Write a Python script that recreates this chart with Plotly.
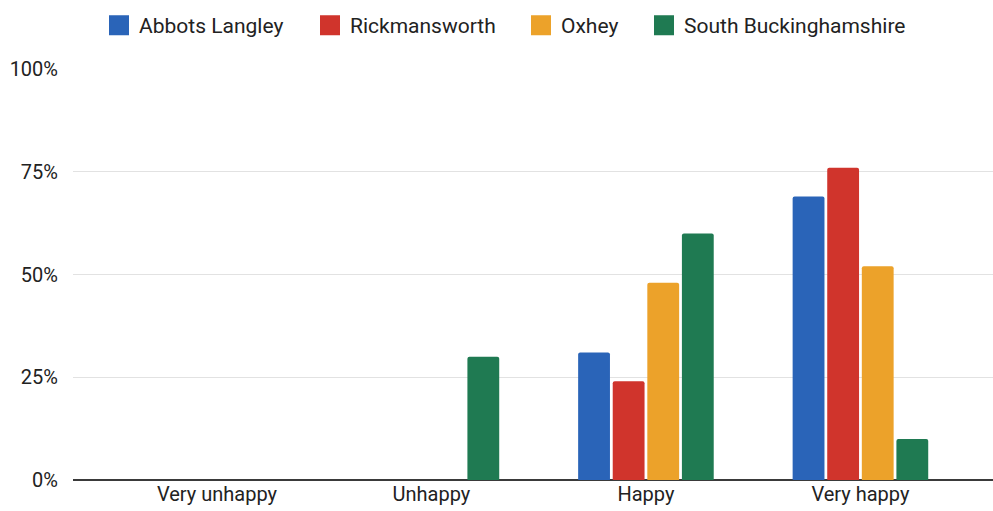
import plotly.graph_objects as go

categories = ["Very unhappy", "Unhappy", "Happy", "Very happy"]
series_names = ["Abbots Langley", "Rickmansworth", "Oxhey", "South Buckinghamshire"]
abbots_langley = [0, 0, 31, 69]
rickmansworth = [0, 0, 24, 76]
oxhey = [0, 0, 48, 52]
south_bucks = [0, 30, 60, 10]
colors = ["#2a64b8", "#d0342c", "#eca22a", "#1f7a52"]
y_ticks = [0, 25, 50, 75, 100]
y_tick_labels = ["0%", "25%", "50%", "75%", "100%"]

values = [abbots_langley, rickmansworth, oxhey, south_bucks]
legend_ids = ["legend", "legend2", "legend3", "legend4"]
legend_swatch_centers = [119, 330, 541, 664]  # px in container

fig = go.Figure()
for name, vals, col in zip(series_names, values, colors):
    fig.add_trace(go.Bar(x=categories, y=vals, name=name, marker_color=col,
                         marker_line_width=0, showlegend=False))
# legend proxies (square swatches), one legend per item for exact spacing
for name, col, lid in zip(series_names, colors, legend_ids):
    fig.add_trace(go.Scatter(x=[None], y=[None], mode="markers", name=name,
                             legend=lid,
                             marker=dict(symbol="square", size=16, color=col,
                                         line=dict(color=col, width=4))))

legend_common = dict(orientation="h", xref="container", yref="container",
                     xanchor="left", y=0.99, yanchor="top",
                     itemsizing="trace", font=dict(size=21, color="#222222"),
                     bgcolor="rgba(0,0,0,0)")
legend_layout = {}
for lid, cx in zip(legend_ids, legend_swatch_centers):
    legend_layout[lid] = dict(legend_common, x=(cx - 20) / 993)

fig.update_layout(
    width=993, height=511,
    margin=dict(l=73, r=0, t=69, b=31, autoexpand=False),
    paper_bgcolor="white", plot_bgcolor="white",
    font=dict(family="Roboto", size=21, color="#222222"),
    barmode="group", bargap=0.355, bargroupgap=0.08,
    barcornerradius=2,
    xaxis=dict(type="category", range=[-0.671, 3.618], showgrid=False,
               showline=False, zeroline=False, ticks="", ticklen=0,
               automargin=False,
               tickfont=dict(size=20, color="#222222")),
    yaxis=dict(range=[0, 100], tickvals=y_ticks, ticktext=y_tick_labels,
               showgrid=True, gridcolor="#e2e2e2", gridwidth=1,
               zeroline=True, zerolinecolor="#3a3a3a", zerolinewidth=2,
               showline=False, ticks="outside", ticklen=10, automargin=False,
               tickcolor="rgba(0,0,0,0)", tickfont=dict(size=20, color="#222222")),
    **legend_layout,
)

fig.write_html("out.html")
